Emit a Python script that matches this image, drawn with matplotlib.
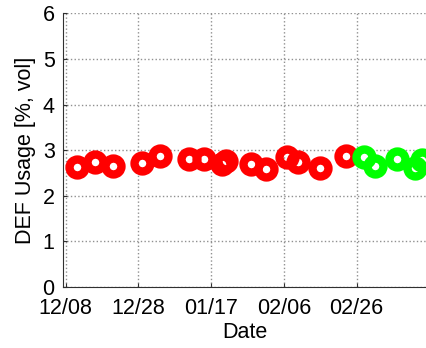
import matplotlib
matplotlib.use('Agg')
import matplotlib.pyplot as plt
import matplotlib.dates as mdates
import numpy as np
from datetime import datetime

plt.rcParams['font.family'] = ['Liberation Sans', 'DejaVu Sans']

# red = before change, green = after
red_dates = ['2013-12-11', '2013-12-16', '2013-12-21', '2013-12-29', '2014-01-03',
             '2014-01-11', '2014-01-15', '2014-01-20', '2014-01-21', '2014-01-28',
             '2014-02-01', '2014-02-07', '2014-02-10', '2014-02-16', '2014-02-23']
red_vals = [2.64, 2.75, 2.66, 2.72, 2.88, 2.81, 2.81, 2.70, 2.77, 2.70,
            2.59, 2.84, 2.73, 2.62, 2.88]
green_dates = ['2014-02-28', '2014-03-03', '2014-03-09', '2014-03-14', '2014-03-16']
green_vals = [2.84, 2.66, 2.81, 2.62, 2.78]
xtick_dates = ['2013-12-08', '2013-12-28', '2014-01-17', '2014-02-06', '2014-02-26']

def to_num(ds):
    return mdates.date2num([datetime.strptime(d, '%Y-%m-%d') for d in ds])

fig = plt.figure(figsize=(4.26, 3.48), dpi=100)
ax = fig.add_axes([0.148, 0.175, 0.852, 0.787])

mk = dict(marker='o', linestyle='none', markersize=11.5, markeredgewidth=6.0,
          markerfacecolor='none', clip_on=True)
ax.plot(to_num(red_dates), red_vals, markeredgecolor='#ff0000', **mk)
ax.plot(to_num(green_dates), green_vals, markeredgecolor='#00ff00', **mk)

x0 = to_num(['2013-12-08'])[0]
ax.set_xlim(x0 - 0.7, x0 + 99.1)
ax.set_ylim(0, 6)
ax.set_yticks(range(7))
ax.set_xticks(to_num(xtick_dates))
ax.xaxis.set_major_formatter(mdates.DateFormatter('%m/%d'))

ax.grid(True, linestyle=':', color='#909090', linewidth=1.0)
for s in ['top', 'right']:
    ax.spines[s].set_visible(False)
for s in ['left', 'bottom']:
    ax.spines[s].set_color('#303030')
ax.tick_params(direction='in', length=3, labelsize=15.5, colors='#303030',
               labelcolor='black')
ax.tick_params(axis='x', pad=8)
ax.tick_params(axis='y', pad=6)
ax.set_xlabel('Date', fontsize=15.5, labelpad=2)
ax.set_ylabel('DEF Usage [%, vol]', fontsize=15.5, labelpad=5)

fig.savefig('out.png', dpi=100)
